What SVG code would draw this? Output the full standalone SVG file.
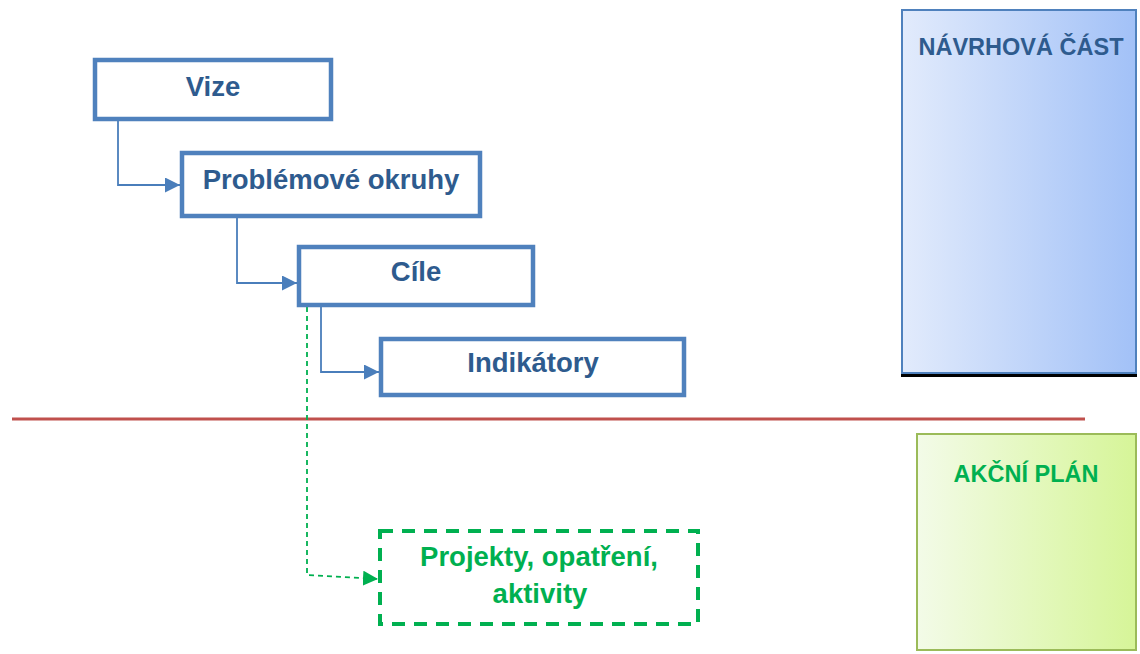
<svg xmlns="http://www.w3.org/2000/svg" width="1140" height="654" viewBox="0 0 1140 654">
<defs>
<linearGradient id="gBlue" x1="0" y1="0" x2="1" y2="0">
<stop offset="0" stop-color="#E2EBFC"/>
<stop offset="1" stop-color="#A2C1F7"/>
</linearGradient>
<linearGradient id="gGreen" x1="0" y1="0" x2="1" y2="0">
<stop offset="0" stop-color="#F3FBE8"/>
<stop offset="1" stop-color="#D6F598"/>
</linearGradient>
<marker id="ab" viewBox="0 0 10 10" refX="10" refY="5" markerWidth="15" markerHeight="15" markerUnits="userSpaceOnUse" orient="auto">
<path d="M0,0 L10,5 L0,10 z" fill="#4A7EBB"/>
</marker>
<marker id="ag" viewBox="0 0 10 10" refX="10" refY="5" markerWidth="15" markerHeight="15" markerUnits="userSpaceOnUse" orient="auto">
<path d="M0,0 L10,5 L0,10 z" fill="#00B050"/>
</marker>
</defs>
<style>
.box{fill:#fff;stroke:#4F81BD;stroke-width:4.5}
.t{font-family:"Liberation Sans",Arial,sans-serif;font-weight:bold;text-anchor:middle}
.tb{fill:#2E5B8E;font-size:27.5px}
.tg{fill:#00B050;font-size:27.5px}
.conn{fill:none;stroke:#4A7EBB;stroke-width:1.8}
</style>
<rect width="1140" height="654" fill="#fff"/>

<g id="navrhova">
<rect x="901" y="373" width="236" height="4" fill="#000"/>
<rect x="902" y="10" width="234" height="363" fill="url(#gBlue)" stroke="#4F81BD" stroke-width="2"/>
<text class="t" x="1021" y="55" fill="#2E5B8E" font-size="23.5">NÁVRHOVÁ ČÁST</text>
</g>

<g id="akcni">
<rect x="917" y="434" width="219" height="216" fill="url(#gGreen)" stroke="#9BBB59" stroke-width="2"/>
<text class="t" x="1026" y="482" fill="#00B050" font-size="23.5">AKČNÍ PLÁN</text>
</g>

<g id="divider">
<line x1="12" y1="419" x2="1085" y2="419" stroke="#C0504D" stroke-width="3"/>
</g>

<g id="connectors">
<path class="conn" d="M118,121 V185 H180" marker-end="url(#ab)"/>
<path class="conn" d="M237,218 V283 H297" marker-end="url(#ab)"/>
<path class="conn" d="M321,307 V372 H379" marker-end="url(#ab)"/>
<path d="M307,307 V575 L378,579" fill="none" stroke="#00B050" stroke-width="1.8" stroke-dasharray="5 4" marker-end="url(#ag)"/>
</g>

<g id="vize">
<rect class="box" x="95" y="60" width="236" height="59"/>
<text class="t tb" x="213" y="96">Vize</text>
</g>

<g id="problemove">
<rect class="box" x="182" y="153" width="298" height="63"/>
<text class="t tb" x="331" y="189">Problémové okruhy</text>
</g>

<g id="cile">
<rect class="box" x="299" y="247" width="234" height="58"/>
<text class="t tb" x="416" y="281">Cíle</text>
</g>

<g id="indikatory">
<rect class="box" x="381" y="339" width="303" height="56"/>
<text class="t tb" x="533" y="372">Indikátory</text>
</g>

<g id="projekty">
<rect x="380" y="531" width="318" height="93" fill="#fff" stroke="#00B050" stroke-width="4" stroke-dasharray="13 9"/>
<text class="t tg" x="539" y="566">Projekty, opatření,</text>
<text class="t tg" x="540" y="603">aktivity</text>
</g>
</svg>
